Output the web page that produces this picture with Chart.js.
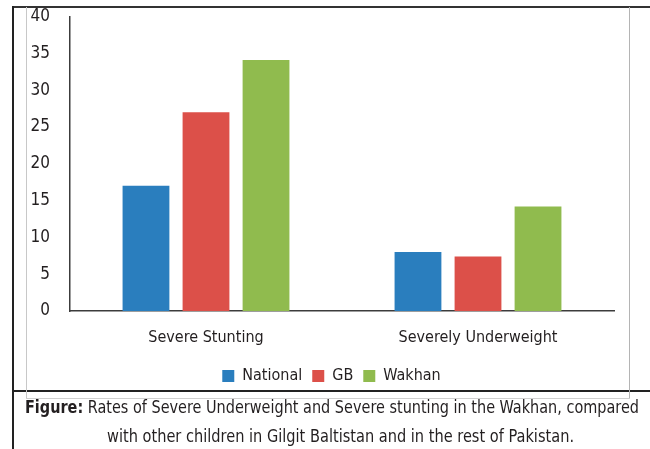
<!DOCTYPE html>
<html>
<head>
<meta charset="utf-8">
<script src="https://cdn.jsdelivr.net/npm/chart.js@4.4.1/dist/chart.umd.min.js"></script>
<style>
  html, body { margin: 0; padding: 0; background: #fff; }
  body { width: 650px; height: 449px; position: relative; overflow: hidden;
         font-family: "DejaVu Sans Condensed", "DejaVu Sans", sans-serif; font-stretch: condensed; }
  .line { position: absolute; }
  #chartBox { position: absolute; left: 27px; top: 7px; width: 602px; height: 392px; }
  .cap { position: absolute; white-space: nowrap; font-size: 17px; line-height: 29px; color: #231f20; }
  .cap span { display: inline-block; transform-origin: 0 50%; }
</style>
</head>
<body>
<!-- outer black frame lines -->
<div class="line" style="left:12px;top:6px;width:638px;height:1.5px;background:#333"></div>
<div class="line" style="left:12px;top:6px;width:1.5px;height:443px;background:#222"></div>
<div class="line" style="left:12px;top:390px;width:638px;height:1.5px;background:#222"></div>
<!-- inner grey chart border -->
<div class="line" style="left:26px;top:7px;width:1px;height:392px;background:#c8c8c8"></div>
<div class="line" style="left:629px;top:7px;width:1px;height:392px;background:#b4b4b4"></div>
<div class="line" style="left:26px;top:398px;width:604px;height:1px;background:#d0d0d0"></div>

<div id="chartBox"><canvas id="chart"></canvas></div>

<div class="cap" style="left:25px;top:393px" data-w="614"><span><b>Figure:</b> Rates of Severe Underweight and Severe stunting in the Wakhan, compared</span></div>
<div class="cap" style="left:107px;top:422px" data-w="467"><span>with other children in Gilgit Baltistan and in the rest of Pakistan.</span></div>

<script>
// ── Data ──
const categories = ['Severe Stunting', 'Severely Underweight'];
const nationalData = [17, 8.0];
const gbData       = [27, 7.4];
const wakhanData   = [34.1, 14.2];
const yTicks = [0, 5, 10, 15, 20, 25, 30, 35, 40];

const FONT = '"DejaVu Sans Condensed", "DejaVu Sans", sans-serif';

// squeeze caption lines to the condensed width of the original
function fitCaption() {
    document.querySelectorAll('.cap').forEach(c => {
        const span = c.querySelector('span');
        const w = span.getBoundingClientRect().width;
        span.style.transform = `scaleX(${(+c.dataset.w / w).toFixed(4)})`;
    });
}

// nudge the legend a little to the right, like the original
const legendShift = {
    id: 'legendShift',
    afterLayout(chart) {
        chart.legend.left += 11;
        chart.legend.right += 11;
    }
};

function initChart() {
    const ctx = document.getElementById('chart').getContext('2d');
    new Chart(ctx, {
        type: 'bar',
        data: {
            labels: categories,
            datasets: [
                { label: 'National', data: nationalData, backgroundColor: '#2a7ebe' },
                { label: 'GB',       data: gbData,       backgroundColor: '#dc5049' },
                { label: 'Wakhan',   data: wakhanData,   backgroundColor: '#90bb4e' }
            ]
        },
        plugins: [legendShift],
        options: {
            responsive: true,
            maintainAspectRatio: false,
            animation: false,
            datasets: { bar: { categoryPercentage: 0.662, barPercentage: 0.78 } },
            layout: { padding: { top: 0, right: 15, bottom: 5, left: 0 } },
            plugins: {
                tooltip: { enabled: false },
                legend: {
                    position: 'bottom',
                    labels: {
                        boxWidth: 12, boxHeight: 12, padding: 10,
                        color: '#231f20',
                        font: { family: FONT, size: 16 }
                    }
                }
            },
            scales: {
                x: {
                    grid: { display: false, drawTicks: false },
                    border: { color: '#3c3c3c', width: 1.5 },
                    ticks: { color: '#231f20', padding: 17, font: { family: FONT, size: 16 } },
                    afterFit: s => { s.height = 47; }
                },
                y: {
                    min: 0, max: 40,
                    afterBuildTicks: s => { s.ticks = yTicks.map(v => ({ value: v })); },
                    grid: { display: false, drawTicks: false },
                    border: { color: '#3c3c3c', width: 1.5 },
                    ticks: { color: '#231f20', padding: 20, font: { family: FONT, size: 17 } },
                    // tick padding would otherwise push the plot top down
                    afterFit: s => { s.width = 43; s.paddingTop = 9.5; s.paddingBottom = 0; }
                }
            }
        }
    });
}

document.addEventListener('DOMContentLoaded', () => {
    fitCaption();
    initChart();
});
</script>
</body>
</html>
